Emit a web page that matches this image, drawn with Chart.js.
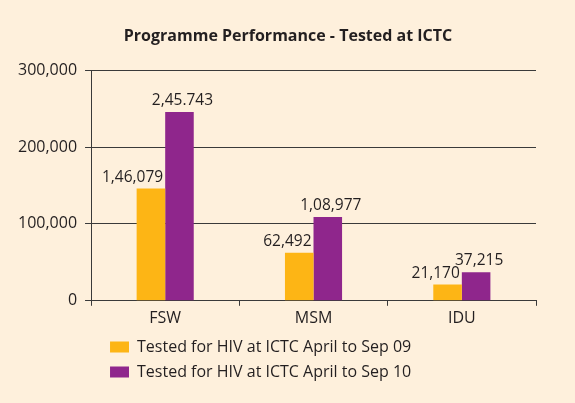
<!DOCTYPE html>
<html>
<head>
    <title>Programme Performance - Tested at ICTC</title>
    <script src="https://cdn.jsdelivr.net/npm/chart.js@4/dist/chart.umd.min.js"></script>
    <style>
        body {
            margin: 0;
            background: #FEF0DC;
        }
        #chart-div {
            width: 575px;
            height: 403px;
        }
    </style>
</head>
<body>
    <div id="chart-div"><canvas id="chart"></canvas></div>

<script type="text/javascript">
    let categories = ['FSW', 'MSM', 'IDU'];
    let tested09 = [146079, 62492, 21170];
    let tested10 = [245743, 108977, 37215];
    let labels09 = ['1,46,079', '62,492', '21,170'];
    let labels10 = ['2,45.743', '1,08,977', '37,215'];
    let yTickLabels = {0: '0', 100000: '100,000', 200000: '200,000', 300000: '300,000'};

    const textColor = '#231F20';
    const fontFamily = '"Open Sans", sans-serif';

    // value labels above the bars
    const barLabels = {
        id: 'barLabels',
        afterDatasetsDraw(chart) {
            let ctx = chart.ctx;
            ctx.save();
            ctx.font = '15.5px ' + fontFamily;
            ctx.fillStyle = textColor;
            ctx.textBaseline = 'alphabetic';
            chart.data.datasets.forEach((ds, i) => {
                let meta = chart.getDatasetMeta(i);
                meta.data.forEach((bar, j) => {
                    let text = ds.valueLabels[j];
                    if (i === 0) {
                        ctx.textAlign = 'right';
                        ctx.fillText(text, bar.x + bar.width / 2 - 2, bar.y - 7);
                    } else {
                        ctx.textAlign = 'center';
                        ctx.fillText(text, bar.x + 3, bar.y - 7);
                    }
                });
            });
            ctx.restore();
        }
    };

    // nudge title and legend like the original (title centred on the page)
    const blockShift = {
        id: 'blockShift',
        afterLayout(chart) {
            chart.titleBlock.left += 15;
            chart.titleBlock.right += 15;
            chart.legend.left += 10;
            chart.legend.right += 10;
            chart.legend.top -= 1;
            chart.legend.bottom -= 1;
        }
    };

    let chart = new Chart(document.getElementById('chart').getContext('2d'), {
        type: 'bar',
        data: {
            labels: categories,
            datasets: [
                {
                    label: 'Tested for HIV at ICTC April to Sep 09',
                    data: tested09,
                    valueLabels: labels09,
                    backgroundColor: '#FDB515'
                },
                {
                    label: 'Tested for HIV at ICTC April to Sep 10',
                    data: tested10,
                    valueLabels: labels10,
                    backgroundColor: '#8F268C'
                }
            ]
        },
        options: {
            responsive: true,
            maintainAspectRatio: false,
            animation: false,
            layout: {
                padding: {top: 27, right: 39, bottom: 12, left: 10}
            },
            datasets: {
                bar: {
                    categoryPercentage: 0.385,
                    barPercentage: 1
                }
            },
            plugins: {
                title: {
                    display: true,
                    text: 'Programme Performance - Tested at ICTC',
                    color: textColor,
                    font: {family: fontFamily, size: 16, weight: 'bold'},
                    padding: {top: 0, bottom: 24}
                },
                legend: {
                    position: 'bottom',
                    align: 'start',
                    fullSize: false,
                    labels: {
                        color: textColor,
                        font: {family: fontFamily, size: 16},
                        boxWidth: 19,
                        boxHeight: 11,
                        padding: 9
                    }
                },
                tooltip: {enabled: false}
            },
            scales: {
                x: {
                    grid: {
                        drawOnChartArea: false,
                        color: '#3A3A3A',
                        tickLength: 5
                    },
                    border: {color: '#3A3A3A'},
                    ticks: {
                        color: textColor,
                        font: {family: fontFamily, size: 16},
                        padding: 3
                    }
                },
                y: {
                    min: 0,
                    max: 300000,
                    grid: {
                        color: '#3A3A3A',
                        tickLength: 6
                    },
                    border: {color: '#3A3A3A'},
                    ticks: {
                        stepSize: 100000,
                        color: textColor,
                        font: {family: fontFamily, size: 16},
                        padding: 8,
                        callback: (v) => yTickLabels[v]
                    }
                }
            }
        },
        plugins: [barLabels, blockShift]
    });
</script>

</body>
</html>
